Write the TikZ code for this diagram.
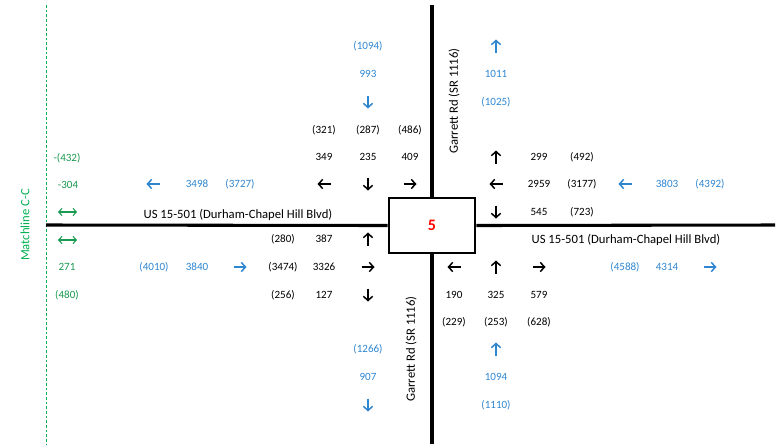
\documentclass[tikz,border=0pt]{standalone}
\usepackage{fontspec}
\setmainfont{Carlito}
\usetikzlibrary{arrows.meta}
\definecolor{flowblue}{HTML}{2F86D0}
\definecolor{mgreen}{HTML}{1A9A50}
\definecolor{lgreen}{HTML}{00B050}
\newcommand\AR[3][tarr]{\draw[#1] ({#2-6.5},#3) -- ({#2+6.5},#3);}
\newcommand\AL[3][tarr]{\draw[#1] ({#2+6.5},#3) -- ({#2-6.5},#3);}
\newcommand\AU[3][tarr]{\draw[#1] (#2,{#3+6.5}) -- (#2,{#3-6.5});}
\newcommand\AD[3][tarr]{\draw[#1] (#2,{#3-6.5}) -- (#2,{#3+6.5});}
\begin{document}
\begin{tikzpicture}[x=0.75pt,y=-0.75pt,
  num/.style={font=\fontsize{8.3}{10}\selectfont, inner sep=0pt},
  bnum/.style={num, text=flowblue},
  gnum/.style={num, text=mgreen},
  road/.style={line width=2.3pt},
  lbl/.style={font=\fontsize{9.5}{11}\selectfont, inner sep=0pt},
  tarr/.style={line width=1.1pt, -{Straight Barb[length=3.2pt,width=7pt]}},
  barr/.style={tarr, draw=flowblue},
  garr/.style={line width=0.8pt, draw=mgreen, {Straight Barb[length=2.5pt,width=5.5pt]}-{Straight Barb[length=2.5pt,width=5.5pt]}}]
\useasboundingbox (0,0) rectangle (784,444);
% matchline
\draw[lgreen, line width=0.75pt, dash pattern=on 2pt off 1.5pt] (46,5) -- (46,444);
\node[lbl, text=lgreen, rotate=90] (ml) at (25,225) {Matchline C-C};
% roads
\node[draw, line width=1.9pt, minimum width=86*0.75pt, minimum height=55*0.75pt, inner sep=0pt] (box) at (432,225.5) {};
\node[font=\bfseries\fontsize{12}{14}\selectfont, text=red, inner sep=0pt] (five) at (432,225) {5};
\coordinate (nT) at (432,5);
\coordinate (nB) at (432,444);
\coordinate (wL) at (46,225);
\coordinate (eR) at (775,225);
\draw[road] (nT) -- (box.north);
\draw[road] (box.south) -- (nB);
\draw[road] (wL) -- (box.west);
\draw[road] (box.east) -- (eR);
\node[lbl] (lblW) at (238,215) {US 15-501 (Durham-Chapel Hill Blvd)};
\node[lbl] (lblE) at (626,240) {US 15-501 (Durham-Chapel Hill Blvd)};
\node[lbl, rotate=90] (lblN) at (454,101) {Garrett Rd (SR 1116)};
\node[lbl, rotate=90] (lblS) at (411,349) {Garrett Rd (SR 1116)};
% left green
\node[gnum] (g1) at (67,158) {-(432)};
\node[gnum] (g2) at (68,185) {-304};
\draw[garr] (58,212) -- (77,212);
\draw[garr] (58,240) -- (77,240);
\node[gnum] (g3) at (67,267) {271};
\node[gnum] (g4) at (67,295) {(480)};
% north approach
\node[bnum] (nb1) at (368,46) {(1094)};
\node[bnum] (nb2) at (368,74) {993};
\AD[barr]{368}{102}
\node[num] (n1) at (324,130) {(321)};
\node[num] (n2) at (368,130) {(287)};
\node[num] (n3) at (410,130) {(486)};
\node[num] (n4) at (324,157) {349};
\node[num] (n5) at (368,157) {235};
\node[num] (n6) at (410,157) {409};
\AL{324}{184}
\AD{368}{184}
\AR{410}{184}
% north departure
\AU[barr]{496}{46}
\node[bnum] (nd1) at (496,74) {1011};
\node[bnum] (nd2) at (496,102) {(1025)};
% east approach
\AU{496}{157}
\node[num] (e1) at (539,157) {299};
\node[num] (e2) at (582,157) {(492)};
\AL{496}{184}
\node[num] (e3) at (539,184) {2959};
\node[num] (e4) at (582,184) {(3177)};
\AL[barr]{625}{184}
\node[bnum] (e5) at (667,184) {3803};
\node[bnum] (e6) at (710,184) {(4392)};
\AD{496}{212}
\node[num] (e7) at (539,212) {545};
\node[num] (e8) at (582,212) {(723)};
% west
\AL[barr]{153}{184}
\node[bnum] (w1) at (197,184) {3498};
\node[bnum] (w2) at (240,184) {(3727)};
\node[num] (w3) at (283,239) {(280)};
\node[num] (w4) at (324,239) {387};
\AU{368}{239}
\node[bnum] (w5) at (154,267) {(4010)};
\node[bnum] (w6) at (197,267) {3840};
\AR[barr]{240}{267}
\node[num] (w7) at (283,267) {(3474)};
\node[num] (w8) at (324,267) {3326};
\AR{368}{267}
\node[num] (w9) at (283,295) {(256)};
\node[num] (w10) at (324,295) {127};
\AD{368}{295}
% south departure
\node[bnum] (s1) at (368,349) {(1266)};
\node[bnum] (s2) at (368,377) {907};
\AD[barr]{368}{405}
% south approach
\AL{454}{267}
\AU{496}{267}
\AR{539}{267}
\node[num] (s3) at (454,295) {190};
\node[num] (s4) at (496,295) {325};
\node[num] (s5) at (539,295) {579};
\node[num] (s6) at (454,322) {(229)};
\node[num] (s7) at (496,322) {(253)};
\node[num] (s8) at (539,322) {(628)};
\AU[barr]{496}{349}
\node[bnum] (s9) at (496,377) {1094};
\node[bnum] (s10) at (496,405) {(1110)};
% east departure
\node[bnum] (e9) at (625,267) {(4588)};
\node[bnum] (e10) at (667,267) {4314};
\AR[barr]{710}{267}
\end{tikzpicture}
\end{document}
